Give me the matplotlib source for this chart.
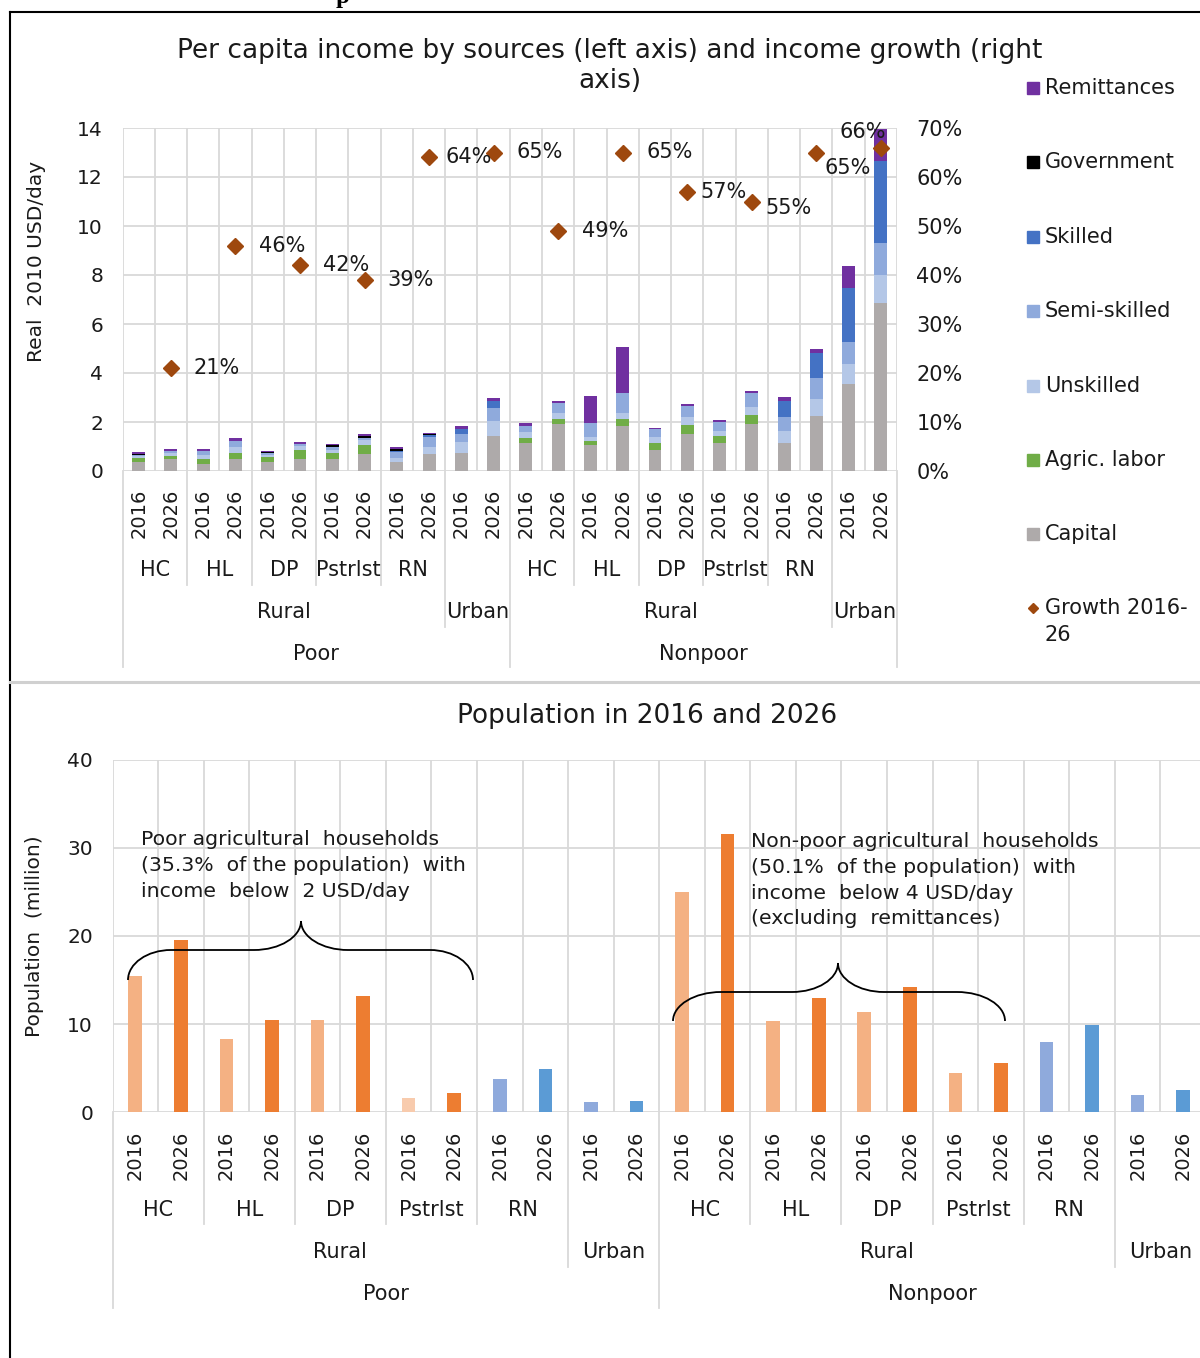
import matplotlib
matplotlib.use("Agg")
import matplotlib.pyplot as plt
import matplotlib.transforms as mtrans
from matplotlib.lines import Line2D
from matplotlib.patches import PathPatch
from matplotlib.path import Path
import numpy as np

plt.rcParams['font.family'] = ['DejaVu Sans']

W, H = 1200, 1358
TXT = '#1a1a1a'
GRID = '#d9d9d9'

# ---- data ----
years = ['2016', '2026'] * 12
groups = ['HC', 'HL', 'DP', 'Pstrlst', 'RN']
areas = ['Rural', 'Urban']
status = ['Poor', 'Nonpoor']

# per capita income by source, real 2010 USD/day (24 bars)
capital = [0.35, 0.50, 0.30, 0.50, 0.35, 0.50, 0.50, 0.68, 0.35, 0.68, 0.74, 1.42,
           1.13, 1.90, 1.05, 1.82, 0.86, 1.50, 1.13, 1.90, 1.16, 2.26, 3.55, 6.87]
agric = [0.18, 0.10, 0.17, 0.24, 0.24, 0.37, 0.24, 0.40, 0.00, 0.00, 0.00, 0.00,
         0.22, 0.23, 0.18, 0.31, 0.30, 0.38, 0.31, 0.37, 0.00, 0.00, 0.00, 0.00]
unskilled = [0.09, 0.13, 0.18, 0.23, 0.07, 0.16, 0.13, 0.17, 0.20, 0.30, 0.44, 0.62,
             0.23, 0.22, 0.15, 0.22, 0.22, 0.34, 0.19, 0.34, 0.48, 0.68, 0.82, 1.12]
semiskilled = [0.05, 0.08, 0.16, 0.26, 0.06, 0.06, 0.11, 0.10, 0.22, 0.40, 0.33, 0.55,
               0.26, 0.44, 0.57, 0.82, 0.33, 0.44, 0.38, 0.58, 0.58, 0.84, 0.90, 1.31]
skilled = [0.00, 0.00, 0.00, 0.00, 0.00, 0.00, 0.00, 0.00, 0.05, 0.10, 0.20, 0.26,
           0.00, 0.00, 0.00, 0.00, 0.00, 0.00, 0.00, 0.00, 0.65, 1.02, 2.19, 3.36]
government = [0.01, 0.01, 0.01, 0.01, 0.04, 0.02, 0.07, 0.07, 0.09, 0.01, 0.00, 0.00,
              0.00, 0.00, 0.00, 0.00, 0.00, 0.00, 0.00, 0.00, 0.00, 0.00, 0.00, 0.00]
remittances = [0.09, 0.08, 0.08, 0.09, 0.07, 0.09, 0.06, 0.09, 0.06, 0.05, 0.14, 0.13,
               0.12, 0.07, 1.12, 1.89, 0.05, 0.08, 0.07, 0.07, 0.14, 0.20, 0.91, 1.29]
growth = [21, 46, 42, 39, 64, 65, 49, 65, 57, 55, 65, 66]  # % growth 2016-26

# population, million
population = [15.5, 19.5, 8.3, 10.5, 10.5, 13.2, 1.6, 2.2, 3.8, 4.9, 1.1, 1.3,
              25.0, 31.6, 10.3, 13.0, 11.4, 14.2, 4.4, 5.6, 8.0, 9.9, 1.9, 2.5]

sources = [('Capital', capital, '#aeaaaa'),
           ('Agric. labor', agric, '#70ad47'),
           ('Unskilled', unskilled, '#b4c7e7'),
           ('Semi-skilled', semiskilled, '#8faadc'),
           ('Skilled', skilled, '#4472c4'),
           ('Government', government, '#000000'),
           ('Remittances', remittances, '#7030a0')]
GROWTH_C = '#9e480e'


def fx(px):
    return px / W


def fy(py):
    return 1 - py / H


fig = plt.figure(figsize=(12, 13.58), dpi=100)
fig.patch.set_facecolor('white')


def style_axes(ax, ymax, ystep):
    ax.set_xlim(-0.5, 23.5)
    ax.set_ylim(0, ymax)
    ax.set_yticks(np.arange(0, ymax + 0.1, ystep))
    ax.set_xticks([])
    ax.set_xticks(np.arange(-0.5, 24, 1), minor=True)
    ax.grid(True, which='major', axis='y', color=GRID, lw=1.3)
    ax.grid(True, which='minor', axis='x', color=GRID, lw=1.3)
    ax.set_axisbelow(True)
    for s in ax.spines.values():
        s.set_visible(False)
    ax.tick_params(axis='both', which='both', length=0, labelsize=14.5,
                   labelcolor=TXT, pad=14)


def category_axis(ax, y_year, y_grp, y_area, y_stat, y_end):
    tr = mtrans.blended_transform_factory(ax.transData, fig.transFigure)
    for i, yr in enumerate(years):
        ax.text(i, fy(y_year), yr, rotation=90, ha='center', va='center',
                fontsize=14, color=TXT, transform=tr)
    for h in range(2):
        base = h * 12
        for g, name in enumerate(groups):
            ax.text(base + 2 * g + 0.5, fy(y_grp), name, ha='center', va='center',
                    fontsize=15, color=TXT, transform=tr)
        ax.text(base + 4.5, fy(y_area), areas[0], ha='center', va='center',
                fontsize=15, color=TXT, transform=tr)
        ax.text(base + 10.5, fy(y_area), areas[1], ha='center', va='center',
                fontsize=15, color=TXT, transform=tr)
        ax.text(base + 5.5, fy(y_stat), status[h], ha='center', va='center',
                fontsize=15, color=TXT, transform=tr)
    y0 = ax.get_position().y0
    for b in np.arange(-0.5, 24, 2):
        if b in (-0.5, 11.5, 23.5):
            end = y_end[2]
        elif b in (9.5, 21.5):
            end = y_end[1]
        else:
            end = y_end[0]
        ax.plot([b, b], [y0, fy(end)], color=GRID, lw=1.3, transform=tr,
                clip_on=False)


# ---- top chart: income by source ----
ax1 = fig.add_axes([fx(122.5), fy(471), (897 - 122.5) / W, (471 - 128) / H])
style_axes(ax1, 14, 2)
x = np.arange(24)
bottom = np.zeros(24)
for name, vals, col in sources:
    ax1.bar(x, vals, width=0.4, bottom=bottom, color=col, label=name)
    bottom += np.array(vals)

ax1b = ax1.twinx()
ax1b.set_ylim(0, 70)
ax1b.set_yticks(np.arange(0, 71, 10))
ax1b.set_yticklabels([f'{v}%' for v in range(0, 71, 10)])
for s in ax1b.spines.values():
    s.set_visible(False)
ax1b.tick_params(axis='y', length=0, labelsize=15, labelcolor=TXT, pad=14)
gx = np.arange(1, 24, 2)
ax1b.plot(gx, growth, ls='none', marker='D', ms=8, color=GROWTH_C)
label_off = [(23, 0), (24, 0), (23, 0), (23, 0), (16, 0), (23, 0),
             (24, 0), (24, 0), (13, 0), (14, -6), (8, -16), (-41, 16)]
for xi, g, (dx, dy) in zip(gx, growth, label_off):
    ax1b.annotate(f'{g}%', (xi, g), xytext=(dx, dy), textcoords='offset pixels',
                  ha='left', va='center', fontsize=15, color=TXT)

category_axis(ax1, 513, 570, 612, 654, (585, 627, 667))

fig.text(fx(610), fy(66),
         'Per capita income by sources (left axis) and income growth (right\naxis)',
         ha='center', va='center', fontsize=19, color=TXT, linespacing=1.2)
fig.text(fx(37), fy(261), 'Real  2010 USD/day', rotation=90, ha='center',
         va='center', fontsize=14.5, color=TXT)

# legend
leg_y = [88, 162, 237, 311, 386, 460, 534]
for (name, vals, col), ly in zip(sources[::-1], leg_y):
    fig.add_artist(Line2D([fx(1033)], [fy(ly)], marker='s', ms=8, color=col,
                          ls='none', transform=fig.transFigure))
    fig.text(fx(1045), fy(ly), name, ha='left', va='center', fontsize=15, color=TXT)
fig.add_artist(Line2D([fx(1033)], [fy(608)], marker='D', ms=5, color=GROWTH_C,
                      ls='none', transform=fig.transFigure))
fig.text(fx(1045), fy(598), 'Growth 2016-\n26', ha='left', va='top', fontsize=15,
         color=TXT, linespacing=1.45)

# ---- bottom chart: population ----
ax2 = fig.add_axes([fx(112.5), fy(1112), (1206 - 112.5) / W, (1112 - 760) / H])
style_axes(ax2, 40, 10)
pop_colors = []
for h in range(2):
    for g in range(4):
        light = '#f8cbad' if (h == 0 and g == 3) else '#f4b183'
        pop_colors += [light, '#ed7d31']
    pop_colors += ['#8faadc', '#5b9bd5'] * 2
ax2.bar(x, population, width=0.3, color=pop_colors)
category_axis(ax2, 1155, 1210, 1252, 1294, (1224, 1267, 1308))

fig.text(fx(647), fy(716), 'Population in 2016 and 2026', ha='center', va='center',
         fontsize=19, color=TXT)
fig.text(fx(35), fy(936), 'Population  (million)', rotation=90, ha='center',
         va='center', fontsize=14.5, color=TXT)

fig.text(fx(141), fy(830),
         'Poor agricultural  households\n(35.3%  of the population)  with\nincome  below  2 USD/day',
         ha='left', va='top', fontsize=14.7, color=TXT, linespacing=1.47)
fig.text(fx(751), fy(832),
         'Non-poor agricultural  households\n(50.1%  of the population)  with\n'
         'income  below 4 USD/day\n(excluding  remittances)',
         ha='left', va='top', fontsize=14.7, color=TXT, linespacing=1.45)


def brace(x0, x1, xm, yb, ybar, ytip, r1, r2):
    k = 0.55
    pts = [(x0, yb),
           (x0, yb + k * (ybar - yb)), (x0 + r1 - k * r1, ybar), (x0 + r1, ybar),
           (xm - r2, ybar),
           (xm - r2 + k * r2, ybar), (xm, ytip + k * (ybar - ytip)), (xm, ytip),
           (xm, ytip + k * (ybar - ytip)), (xm + r2 - k * r2, ybar), (xm + r2, ybar),
           (x1 - r1, ybar),
           (x1 - r1 + k * r1, ybar), (x1, yb + k * (ybar - yb)), (x1, yb)]
    codes = [Path.MOVETO, Path.CURVE4, Path.CURVE4, Path.CURVE4, Path.LINETO,
             Path.CURVE4, Path.CURVE4, Path.CURVE4, Path.CURVE4, Path.CURVE4,
             Path.CURVE4, Path.LINETO, Path.CURVE4, Path.CURVE4, Path.CURVE4]
    verts = [(fx(a), fy(b)) for a, b in pts]
    fig.add_artist(PathPatch(Path(verts, codes), fill=False, lw=1.3,
                             edgecolor='black', transform=fig.transFigure))


brace(128, 473, 301, 980, 950, 921, 43, 47)
brace(673, 1005, 838, 1021, 992, 963, 48, 46)

# page frame bits
fig.add_artist(Line2D([fx(10), fx(10)], [fy(12), 0], color='black', lw=1.5,
                      transform=fig.transFigure))
fig.add_artist(Line2D([fx(10), 1], [fy(12), fy(12)], color='black', lw=1.5,
                      transform=fig.transFigure))
fig.add_artist(Line2D([fx(10), 1], [fy(682), fy(682)], color='#d0d0d0', lw=2.2,
                      transform=fig.transFigure))
fig.text(fx(343), fy(3), 'p', ha='center', va='baseline', fontsize=18,
         fontweight='bold', family='Liberation Serif', color='black')

fig.savefig('out.png', dpi=100, facecolor='white')
